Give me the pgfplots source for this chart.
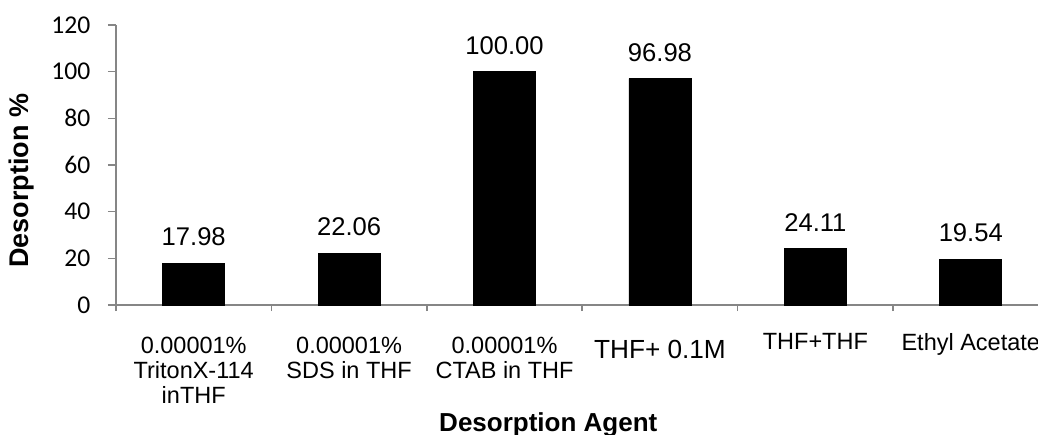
\documentclass[border=0pt]{standalone}
\usepackage{fontspec}
\setmainfont{Liberation Sans}
\newfontfamily\carlito{Carlito}
\usepackage{pgfplots}
\pgfplotsset{compat=1.18}
\definecolor{axisgray}{RGB}{134,134,134}
\begin{document}
\begin{tikzpicture}
\begin{axis}[
  name=ax,
  at={(0,0)}, anchor=south west,
  scale only axis, width=466.25pt, height=140pt,
  xmin=-0.5, xmax=5.5, ymin=0, ymax=120,
  ybar, bar width=31pt,
  axis lines=left,
  axis line style={-, draw=axisgray, line width=0.75pt},
  ytick={0,20,...,120},
  xtick={0,...,5},
  minor xtick={-0.5,0.5,...,5.5},
  tick align=outside,
  major tick length=4pt, minor tick length=3pt,
  tick style={axisgray, line width=0.75pt},
  major x tick style={draw=none},
  /pgf/number format/assume math mode=true,
  yticklabel={\carlito\fontsize{12.8}{14}\selectfont\pgfmathprintnumber{\tick}},
  yticklabel style={anchor=east, inner sep=0pt, xshift=-8.65pt},
  xticklabel style={font=\fontsize{11.75}{12.5}\selectfont, align=center, anchor=north, inner sep=0pt, yshift=-10pt},
  xticklabels={
    {\rule{0pt}{10.2pt}0.00001\%\\TritonX-114\\inTHF},
    {\rule{0pt}{10.2pt}0.00001\%\\SDS in THF},
    {\rule{0pt}{10.2pt}0.00001\%\\CTAB in THF},
    {\fontsize{13.1}{14}\selectfont\rule{0pt}{12.4pt}THF+ 0.1M},
    {THF+THF},
    {Ethyl Acetate}},
  ylabel={Desorption \%},
  ylabel style={font=\bfseries\fontsize{13.5}{15}\selectfont, at={(axis description cs:-0.1008,0.443)}, anchor=center},
  xlabel={Desorption Agent},
  xlabel style={font=\bfseries\fontsize{13}{15}\selectfont, at={(axis description cs:0.4636,-0.45)}, anchor=base},
  nodes near coords,
  point meta=explicit symbolic,
  every node near coord/.append style={font=\fontsize{12.8}{14}\selectfont, anchor=south, inner sep=0pt, yshift=8.5pt, black},
]
\addplot[fill=black, draw=black] coordinates {
  (0,17.98) [17.98]
  (1,22.06) [22.06]
  (2,100.00) [100.00]
  (3,96.98) [96.98]
  (4,24.11) [24.11]
  (5,19.54) [19.54]
};
\end{axis}
\pgfresetboundingbox
\path[use as bounding box] (-58pt,-64.5pt) rectangle (461pt,152.5pt);
\end{tikzpicture}
\end{document}
